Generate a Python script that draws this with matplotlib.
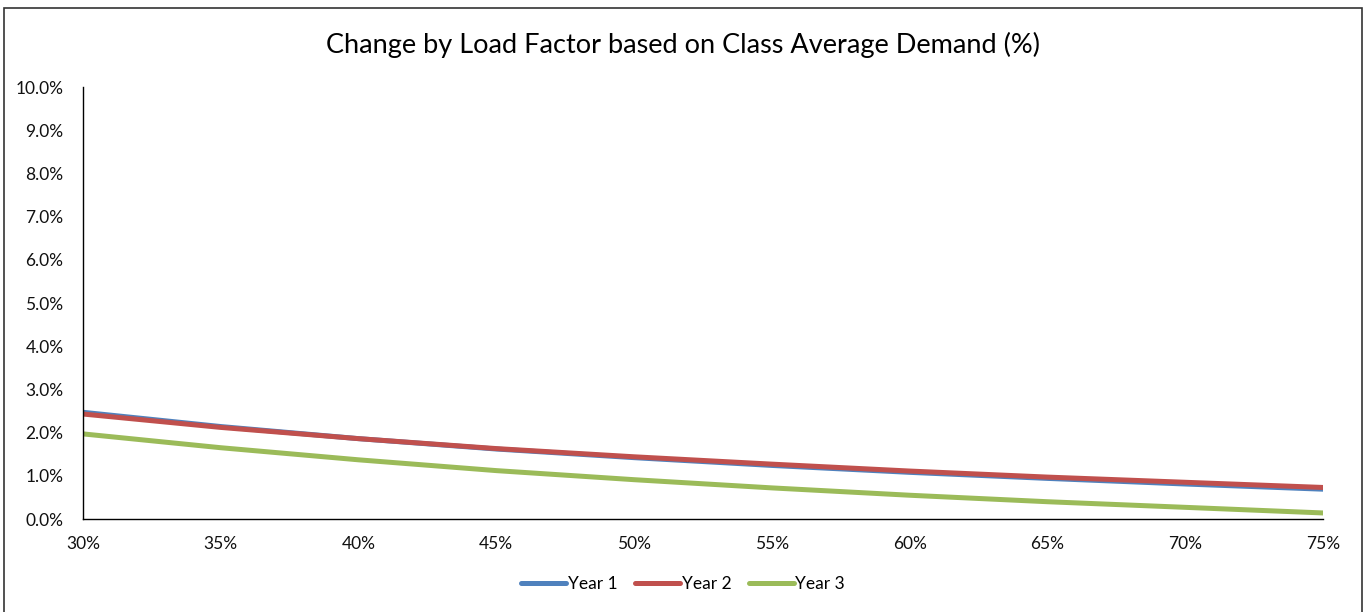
import matplotlib

matplotlib.use("Agg")
import matplotlib.pyplot as plt  # noqa: E402
from matplotlib.patches import Rectangle  # noqa: E402
from matplotlib.ticker import FuncFormatter  # noqa: E402

plt.rcParams["font.family"] = ["Lato", "DejaVu Sans"]

# load factor (%) and change (%)
load_factor = [30, 35, 40, 45, 50, 55, 60, 65, 70, 75]
year1 = [2.47, 2.14, 1.86, 1.62, 1.42, 1.24, 1.08, 0.94, 0.81, 0.69]
year2 = [2.43, 2.12, 1.86, 1.63, 1.44, 1.27, 1.11, 0.97, 0.85, 0.73]
year3 = [1.97, 1.65, 1.37, 1.12, 0.91, 0.72, 0.55, 0.40, 0.27, 0.14]

SERIES = [("Year 1", year1, "#4F81BD"),
          ("Year 2", year2, "#C0504D"),
          ("Year 3", year3, "#9BBB59")]

W, H = 1363, 612
fig = plt.figure(figsize=(W / 100, H / 100), dpi=100)
ax = fig.add_axes([83 / W, 1 - 519 / H, (1323 - 83) / W, (519 - 87) / H])

for label, data, color in SERIES:
    ax.plot(load_factor, data, color=color, linewidth=3.6, label=label,
            solid_capstyle="round")

ax.set_xlim(30, 75)
ax.set_ylim(0, 10)
ax.set_xticks(load_factor)
ax.set_yticks(range(0, 11))
ax.xaxis.set_major_formatter(FuncFormatter(lambda v, _: f"{v:.0f}%"))
ax.yaxis.set_major_formatter(FuncFormatter(lambda v, _: f"{v:.1f}%"))
ax.tick_params(length=0, labelsize=12.5, colors="#111111")
ax.tick_params(axis="x", pad=12)
ax.tick_params(axis="y", pad=14)
for side in ("top", "right"):
    ax.spines[side].set_visible(False)
for side in ("left", "bottom"):
    ax.spines[side].set_color("#000000")
    ax.spines[side].set_linewidth(1.0)

fig.text(683 / W, 1 - 45 / H, "Change by Load Factor based on Class Average Demand (%)",
         ha="center", va="center", fontsize=19.5, color="#000000")

fig.legend(loc="center", bbox_to_anchor=(683 / W, 1 - 584 / H), ncol=3,
           frameon=False, fontsize=12.5, handlelength=2.6, handletextpad=0.1,
           columnspacing=1.0)

# outer chart border
fig.patches.append(Rectangle((4 / W, -0.01), (1362 - 4) / W, 1.01 - 8 / H,
                             transform=fig.transFigure, fill=False,
                             edgecolor="#333333", linewidth=1.2))

fig.savefig("out.png", dpi=100)
